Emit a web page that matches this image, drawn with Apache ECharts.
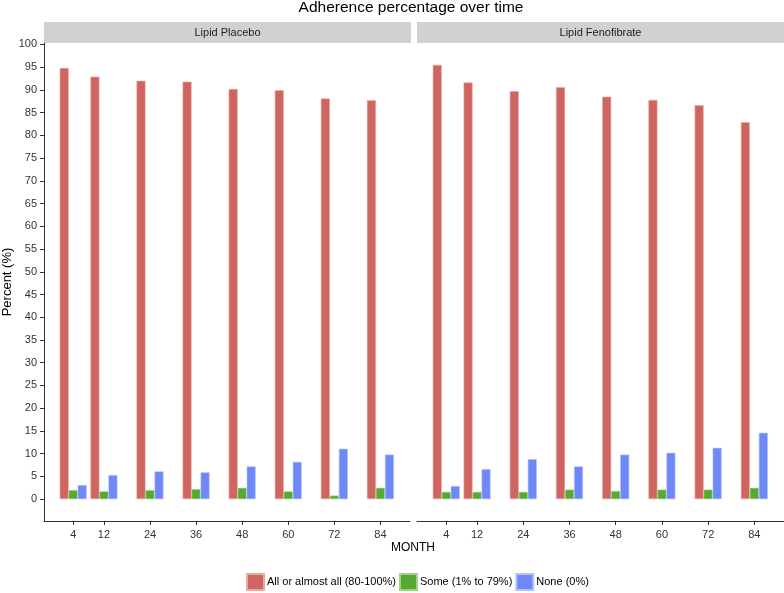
<!DOCTYPE html>
<html>
<head>
<meta charset="utf-8">
<script src="https://cdn.jsdelivr.net/npm/echarts@6/dist/echarts.min.js"></script>
<style>
  html, body { margin: 0; padding: 0; background: #fff; }
  #chart { width: 784px; height: 593px; }
</style>
</head>
<body>
<div id="chart"></div>
<script>
// months on the x axis (numeric spacing)
var months = [4, 12, 24, 36, 48, 60, 72, 84];
var panels = ['Lipid Placebo', 'Lipid Fenofibrate'];
var groups = ['All or almost all (80-100%)', 'Some (1% to 79%)', 'None (0%)'];
var yTicks = [0, 5, 10, 15, 20, 25, 30, 35, 40, 45, 50, 55, 60, 65, 70, 75, 80, 85, 90, 95, 100];

// Lipid Placebo
var placeboAll  = [94.8, 92.9, 92.0, 91.8, 90.2, 89.9, 88.1, 87.7];
var placeboSome = [2.0, 1.7, 2.0, 2.2, 2.5, 1.7, 0.8, 2.5];
var placeboNone = [3.1, 5.3, 6.1, 5.9, 7.2, 8.2, 11.1, 9.8];

// Lipid Fenofibrate
var fenoAll  = [95.5, 91.6, 89.7, 90.6, 88.5, 87.8, 86.6, 82.9];
var fenoSome = [1.6, 1.6, 1.6, 2.1, 1.8, 2.1, 2.1, 2.5];
var fenoNone = [2.9, 6.6, 8.8, 7.2, 9.8, 10.2, 11.3, 14.6];

var colors = ['#CF6560', '#55AA33', '#6E88F7'];
var borders = ['#E8A9A5', '#9FD488', '#B3C2FB'];
var font = 'Liberation Sans, Arial, sans-serif';

function pairs(vals) {
  return months.map(function (m, i) { return [m, vals[i]]; });
}

var myChart = echarts.init(document.getElementById('chart'));

var grids = [
  { left: 44, right: 374, top: 43, bottom: 72 },
  { left: 417, right: 0, top: 43, bottom: 72 }
];

var xAxes = grids.map(function (g, i) {
  return {
    type: 'value', gridIndex: i, min: -3.6, max: 91.7,
    splitLine: { show: false },
    axisLine: { show: true, onZero: false, lineStyle: { color: '#333', width: 1 } },
    axisTick: { show: true, length: 4, customValues: months, lineStyle: { color: '#333' } },
    axisLabel: { customValues: months, margin: 8, color: '#333', fontSize: 11, fontFamily: font }
  };
});

var yAxes = grids.map(function (g, i) {
  return {
    type: 'value', gridIndex: i, min: -4.8, max: 100.3,
    splitLine: { show: false },
    name: i === 0 ? 'Percent (%)' : '',
    nameLocation: 'middle', nameRotate: 90, nameGap: 30,
    nameTextStyle: { color: '#000', fontSize: 13, fontFamily: font },
    axisLine: { show: i === 0, onZero: false, lineStyle: { color: '#333', width: 1 } },
    axisTick: { show: i === 0, length: 4, customValues: yTicks, lineStyle: { color: '#333' } },
    axisLabel: { show: i === 0, customValues: yTicks, margin: 7, color: '#333', fontSize: 11, fontFamily: font }
  };
});

var panelData = [
  [placeboAll, placeboSome, placeboNone],
  [fenoAll, fenoSome, fenoNone]
];

var series = [];
panelData.forEach(function (sets, p) {
  sets.forEach(function (vals, k) {
    series.push({
      name: groups[k],
      type: 'bar',
      xAxisIndex: p, yAxisIndex: p,
      barWidth: 9,
      barGap: '0%',
      itemStyle: { color: colors[k], borderColor: borders[k], borderWidth: 0.6 },
      data: pairs(vals)
    });
  });
});

// 面板标题条
var strips = [];
[[44, 367], [417, 367]].forEach(function (s, i) {
  strips.push({
    type: 'rect', shape: { x: s[0], y: 22, width: s[1], height: 21 },
    style: { fill: '#D1D1D1' }
  });
  strips.push({
    type: 'text', x: s[0] + s[1] / 2, y: 32.5,
    style: { text: panels[i], fill: '#222', font: '11px ' + font, textAlign: 'center', textVerticalAlign: 'middle' }
  });
});
strips.push({
  type: 'text', x: 413, y: 548,
  style: { text: 'MONTH', fill: '#000', font: '12px ' + font, textAlign: 'center', textVerticalAlign: 'middle' }
});

var option = {
  animation: false,
  title: {
    text: 'Adherence percentage over time', left: 411, top: 0, textAlign: 'center', padding: 0,
    textStyle: { color: '#000', fontSize: 15.5, fontWeight: 'normal', fontFamily: font }
  },
  legend: {
    data: groups, left: 246, top: 573, padding: 0,
    itemWidth: 17, itemHeight: 16, itemGap: 3,
    icon: 'rect',
    textStyle: { color: '#000', fontSize: 11, fontFamily: font, padding: [0, 0, 0, -2] }
  },
  grid: grids,
  xAxis: xAxes,
  yAxis: yAxes,
  graphic: strips,
  series: series
};

myChart.setOption(option);
</script>
</body>
</html>
